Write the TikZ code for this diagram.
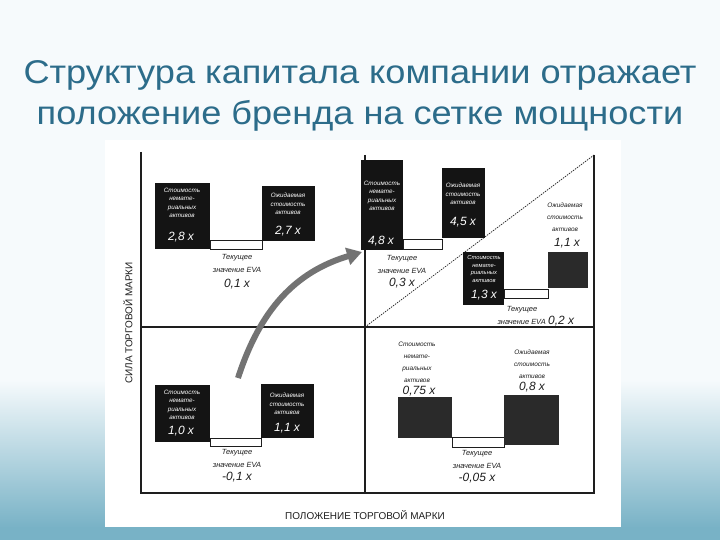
\documentclass[tikz,border=0pt]{standalone}
\usepackage{fontspec}
\setmainfont{Liberation Sans}
\newfontfamily\titlefont[FakeStretch=1.1]{Liberation Sans}
\usetikzlibrary{arrows.meta}
\definecolor{bgc}{RGB}{246,250,252}
\definecolor{tealc}{RGB}{120,178,198}
\definecolor{titlec}{RGB}{44,108,138}
\definecolor{boxc}{RGB}{20,20,20}
\definecolor{boxg}{RGB}{42,42,42}
\definecolor{inkc}{RGB}{30,30,30}
\tikzset{
  bbox/.style={fill=boxc, draw=none, inner sep=0, anchor=north west},
  gbox/.style={fill=boxg, draw=none, inner sep=0, anchor=north west},
  evabar/.style={draw=inkc, line width=0.8bp, fill=white, inner sep=0, anchor=north west},
  inlab/.style={text=white, font=\fontsize{6.3}{8.5}\selectfont\itshape, align=center, inner sep=0},
  inval/.style={text=white, font=\fontsize{12}{13}\selectfont\itshape, inner sep=0},
  outlab/.style={text=inkc, font=\fontsize{7.5}{13}\selectfont\itshape, align=center, inner sep=0},
  smlab/.style={text=inkc, font=\fontsize{6.5}{12}\selectfont\itshape, align=center, inner sep=0},
  outval/.style={text=inkc, font=\fontsize{12}{13}\selectfont\itshape, inner sep=0},
  axisline/.style={line width=1.1bp, draw=inkc},
  axlab/.style={text=inkc, font=\fontsize{10}{11}\selectfont, inner sep=0},
}
\begin{document}
\begin{tikzpicture}[x=1bp,y=-1bp]
\useasboundingbox (0,0) rectangle (720,540);
% slide background
\fill[bgc] (0,0) rectangle (720,540);
\shade[top color=bgc, bottom color=tealc] (0,380) rectangle (720,528);
\fill[tealc] (0,527) rectangle (720,540);
% scanned figure area
\fill[white] (105,140) rectangle (621,527);
% title
\node[font=\titlefont\fontsize{33}{42}\selectfont, text=titlec, align=center, inner sep=0] (title) at (360,96)
  {Структура капитала компании отражает\\положение бренда на сетке мощности};

% grid
\coordinate (tl) at (141,152);
\coordinate (bl) at (141,493);
\coordinate (br) at (594,493);
\coordinate (tr) at (594,155);
\coordinate (ml) at (141,327);
\coordinate (mr) at (594,327);
\coordinate (mt) at (365,155);
\coordinate (mb) at (365,493);
\coordinate (cc) at (365,327);
\draw[axisline] (tl) -- (bl) -- (br) -- (tr);
\draw[axisline] (ml) -- (mr);
\draw[axisline] (mt) -- (mb);
\draw[inkc, line width=0.7bp, dash pattern=on 1.5bp off 1bp] (cc) -- (tr);

% axis labels
\node[axlab, rotate=90] (ylab) at (128,323) {СИЛА ТОРГОВОЙ МАРКИ};
\node[axlab] (xlab) at (365,515) {ПОЛОЖЕНИЕ ТОРГОВОЙ МАРКИ};

% ---------- upper left ----------
\node[evabar, minimum width=52bp, minimum height=9bp] (e1) at (210,240) {};
\node[bbox, minimum width=55bp, minimum height=66bp] (b1) at (155,183) {};
\node[bbox, minimum width=53bp, minimum height=55bp] (b2) at (262,186) {};
\node[inlab] (b1l) at (182,203) {Стоимость\\немате-\\риальных\\активов};
\node[inval] (b1v) at (181,237) {2,8 х};
\node[inlab] (b2l) at (288,204) {Ожидаемая\\стоимость\\активов};
\node[inval] (b2v) at (288,231) {2,7 х};
\node[outlab] (e1l) at (237,263) {Текущее\\значение EVA};
\node[outval] (e1v) at (237,284) {0,1 х};

% ---------- upper right ----------
\node[evabar, minimum width=39bp, minimum height=10bp] (e2) at (403,239) {};
\node[bbox, minimum width=42bp, minimum height=90bp] (b3) at (361,160) {};
\node[bbox, minimum width=43bp, minimum height=70bp] (b4) at (442,168) {};
\node[inlab] (b3l) at (382,196) {Стоимость\\немате-\\риальных\\активов};
\node[inval] (b3v) at (381,241) {4,8 х};
\node[inlab] (b4l) at (463,194) {Ожидаемая\\стоимость\\активов};
\node[inval] (b4v) at (463,222) {4,5 х};
\node[outlab] (e2l) at (402,264) {Текущее\\значение EVA};
\node[outval] (e2v) at (402,283) {0,3 х};

\node[evabar, minimum width=44bp, minimum height=9bp] (e3) at (504,289) {};
\node[bbox, minimum width=41bp, minimum height=53bp] (b5) at (463,252) {};
\node[gbox, minimum width=40bp, minimum height=36bp] (b6) at (548,252) {};
\node[inlab, font=\fontsize{5.8}{7.5}\selectfont\itshape] (b5l) at (484,269) {Стоимость\\немате-\\риальных\\активов};
\node[inval] (b5v) at (484,295) {1,3 х};
\node[smlab] (b6l) at (565,217) {Ожидаемая\\стоимость\\активов};
\node[outval] (b6v) at (567,243) {1,1 х};
\node[outlab] (e3l) at (522,310) {Текущее};
\node[outlab, anchor=east] (e3m) at (546,322) {значение EVA};
\node[outval, anchor=west] (e3v) at (548,321) {0,2 х};

% growth arrow
\coordinate (atail) at (238,378);
\coordinate (ahead) at (362,252);
\draw[line width=6bp, draw=black!55, -{Triangle[length=15bp,width=17bp]}]
  (atail) .. controls (260,310) and (295,272) .. (ahead);

% ---------- lower left ----------
\node[evabar, minimum width=51bp, minimum height=8bp] (e4) at (210,438) {};
\node[bbox, minimum width=55bp, minimum height=57bp] (b7) at (155,385) {};
\node[bbox, minimum width=53bp, minimum height=54bp] (b8) at (261,384) {};
\node[inlab] (b7l) at (182,405) {Стоимость\\немате-\\риальных\\активов};
\node[inval] (b7v) at (181,431) {1,0 х};
\node[inlab] (b8l) at (287,404) {Ожидаемая\\стоимость\\активов};
\node[inval] (b8v) at (287,428) {1,1 х};
\node[outlab] (e4l) at (237,458) {Текущее\\значение EVA};
\node[outval] (e4v) at (237,477) {-0,1 х};

% ---------- lower right ----------
\node[evabar, minimum width=52bp, minimum height=10bp] (e5) at (452,437) {};
\node[gbox, minimum width=54bp, minimum height=41bp] (b9) at (398,397) {};
\node[gbox, minimum width=55bp, minimum height=50bp] (b10) at (504,395) {};
\node[smlab] (b9l) at (417,362) {Стоимость\\немате-\\риальных\\активов};
\node[outval] (b9v) at (419,391) {0,75 х};
\node[smlab] (b10l) at (532,364) {Ожидаемая\\стоимость\\активов};
\node[outval] (b10v) at (532,387) {0,8 х};
\node[outlab] (e5l) at (477,459) {Текущее\\значение EVA};
\node[outval] (e5v) at (477,478) {-0,05 х};
\end{tikzpicture}
\end{document}
